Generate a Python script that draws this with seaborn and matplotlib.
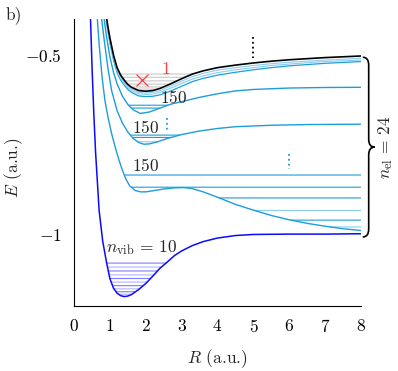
import numpy as np
import seaborn as sns
import matplotlib.pyplot as plt
from matplotlib.path import Path
from matplotlib.patches import PathPatch

# ground state curve and its vibrational levels
R_gs = [0.46, 0.5, 0.55, 0.6, 0.7, 0.8, 0.9, 1.0, 1.1, 1.2, 1.3, 1.4, 1.5, 1.6, 1.8, 2.0,
        2.2, 2.4, 2.6, 2.8, 3.0, 3.3, 3.6, 4.0, 4.5, 5.0, 6.0, 7.0, 8.0]
E_gs = [-0.40, -0.527, -0.66, -0.77, -0.935, -1.02, -1.076, -1.1245, -1.151, -1.165, -1.172,
        -1.1745, -1.173, -1.169, -1.155, -1.138, -1.117, -1.095, -1.078, -1.060, -1.047,
        -1.032, -1.021, -1.011, -1.004, -1.001, -1.0, -1.0, -0.999]
lev_gs = [-1.081, -1.092, -1.103, -1.114, -1.124, -1.134, -1.144, -1.153, -1.161, -1.168]

# ion curve (black) and its levels (grey)
R_ion = [0.9, 0.95, 1.0, 1.1, 1.2, 1.3, 1.4, 1.5, 1.6, 1.8, 2.0, 2.2, 2.4, 2.7, 3.0, 3.3,
         3.6, 4.0, 4.5, 5.0, 5.5, 6.0, 7.0, 8.0]
E_ion = [-0.392, -0.424, -0.452, -0.500, -0.535, -0.556, -0.570, -0.582, -0.590, -0.599,
         -0.601, -0.599, -0.593, -0.580, -0.566, -0.553, -0.544, -0.535, -0.528, -0.522,
         -0.517, -0.513, -0.507, -0.5025]
lev_ion = [-0.553, -0.562, -0.572, -0.581, -0.589, -0.595]

# high excited states hugging the ion curve
E_F = [-0.397, -0.429, -0.457, -0.505, -0.540, -0.561, -0.575, -0.587, -0.595, -0.604,
       -0.606, -0.604, -0.599, -0.586, -0.573, -0.560, -0.551, -0.542, -0.535, -0.529,
       -0.524, -0.520, -0.514, -0.509]
E_E = [-0.401, -0.433, -0.461, -0.509, -0.544, -0.565, -0.579, -0.591, -0.599, -0.608,
       -0.610, -0.609, -0.604, -0.592, -0.579, -0.567, -0.558, -0.549, -0.541, -0.535,
       -0.529, -0.525, -0.518, -0.514]
E_D = [-0.406, -0.438, -0.466, -0.514, -0.549, -0.570, -0.584, -0.596, -0.604, -0.614,
       -0.616, -0.615, -0.611, -0.600, -0.587, -0.574, -0.565, -0.556, -0.548, -0.541,
       -0.535, -0.530, -0.523, -0.518]

# excited state C
R_C = [0.84, 0.9, 1.0, 1.1, 1.2, 1.35, 1.5, 1.65, 1.85, 2.1, 2.4, 2.7, 3.0, 3.5, 4.0,
       4.5, 5.0, 6.0, 7.0, 8.0]
E_C = [-0.40, -0.445, -0.505, -0.548, -0.580, -0.615, -0.638, -0.653, -0.663, -0.659,
       -0.648, -0.637, -0.630, -0.618, -0.608, -0.600, -0.596, -0.592, -0.5905, -0.590]
lev_C = [-0.640, -0.648]

# excited state B
R_B = [0.77, 0.85, 0.95, 1.05, 1.2, 1.35, 1.5, 1.65, 1.8, 1.95, 2.1, 2.3, 2.6, 3.0, 3.5,
       4.0, 4.5, 5.5, 6.5, 8.0]
E_B = [-0.40, -0.465, -0.54, -0.60, -0.655, -0.69, -0.715, -0.733, -0.744, -0.749, -0.748,
       -0.743, -0.733, -0.722, -0.712, -0.705, -0.700, -0.696, -0.694, -0.693]
lev_B = [-0.7235, -0.730, -0.742]

# excited state A (with barrier)
R_A = [0.65, 0.7, 0.78, 0.86, 0.95, 1.05, 1.15, 1.25, 1.35, 1.45, 1.55, 1.7, 1.85, 2.0,
       2.2, 2.5, 2.8, 3.05, 3.3, 3.6, 4.0, 4.5, 5.0, 5.5, 6.0, 6.5, 7.0, 7.5, 8.0]
E_A = [-0.40, -0.47, -0.56, -0.626, -0.675, -0.72, -0.758, -0.792, -0.822, -0.847, -0.865,
       -0.878, -0.882, -0.882, -0.879, -0.874, -0.871, -0.870, -0.873, -0.882, -0.897,
       -0.917, -0.933, -0.948, -0.960, -0.970, -0.978, -0.985, -0.990]
lev_A = [-0.835, -0.869, -0.899, -0.934, -0.961, -0.980]

# dotted markers: R, top, bottom
dots_R = [5.0, 2.6, 6.0]
dots_top = [-0.450, -0.677, -0.775]
dots_bot = [-0.508, -0.714, -0.817]

cyan = '#1c9ddc'
light = '#8ccdef'
blue = '#0a0aff'

sns.set_theme(style='white')
plt.rcParams['font.family'] = ['cmr10', 'DejaVu Serif']
plt.rcParams['mathtext.fontset'] = 'cm'
plt.rcParams['axes.formatter.use_mathtext'] = True
plt.rcParams['axes.unicode_minus'] = False

fig = plt.figure(figsize=(3.98, 3.71), dpi=100)
ax = fig.add_axes([0.186, 0.176, 0.721, 0.772])


def level_lines(R, E, levels, colors, lw):
    rr = np.linspace(R[0], 8, 1500)
    vv = np.interp(rr, R, E)
    for i, lev in enumerate(levels):
        y = np.where(vv <= lev, lev, np.nan)
        ax.plot(rr, y, color=colors[i % len(colors)], lw=lw, zorder=1)


level_lines(R_ion, E_ion, lev_ion, ['#c8c8c8'], 0.8)
level_lines(R_gs, E_gs, lev_gs, ['#7d7dff', '#b3b3ff'], 0.8)
level_lines(R_A, E_A, lev_A, [cyan, cyan, cyan, light, cyan, light], 0.8)
level_lines(R_B, E_B, lev_B, [cyan, cyan, light], 0.8)
level_lines(R_C, E_C, lev_C, [cyan, cyan], 0.8)

sns.lineplot(x=R_A, y=E_A, ax=ax, color=cyan, lw=1.0, sort=False)
sns.lineplot(x=R_B, y=E_B, ax=ax, color=cyan, lw=1.0, sort=False)
sns.lineplot(x=R_C, y=E_C, ax=ax, color=cyan, lw=1.0, sort=False)
sns.lineplot(x=R_ion, y=E_D, ax=ax, color=cyan, lw=0.9, sort=False)
sns.lineplot(x=R_ion, y=E_E, ax=ax, color=light, lw=0.8, sort=False)
sns.lineplot(x=R_ion, y=E_F, ax=ax, color=light, lw=0.8, sort=False)
sns.lineplot(x=R_gs, y=E_gs, ax=ax, color=blue, lw=1.1, sort=False)
sns.lineplot(x=R_ion, y=E_ion, ax=ax, color='black', lw=1.2, sort=False)

# dotted vertical markers
for r, t, b, c in zip(dots_R, dots_top, dots_bot, ['black', cyan, cyan]):
    ax.plot([r, r], [t, b], color=c, lw=1.3, ls=(0, (1, 1.7)))

# red cross and label
ax.plot([1.89], [-0.570], marker='x', ms=9, mew=0.9, color='#ff4040', ls='none')
ax.text(2.56, -0.539, '$1$', color='#ff4040', fontsize=13, ha='center', va='center')

fs = 12.5
ax.text(2.79, -0.619, '$150$', fontsize=fs, ha='center', va='center')
ax.text(2.0, -0.7025, '$150$', fontsize=fs, ha='center', va='center')
ax.text(2.0, -0.807, '$150$', fontsize=fs, ha='center', va='center')
ax.text(1.89, -1.037, r'$n_{\mathrm{vib}}\,=\,10$', fontsize=fs, ha='center', va='center')

# curly brace on the right
x0, w, yt, yb = 8.05, 0.33, -0.506, -1.008
ym = (yt + yb) / 2
r = 0.022
verts = [(x0, yt), (x0 + w / 2, yt), (x0 + w / 2, yt - r),
         (x0 + w / 2, ym + r), (x0 + w / 2, ym), (x0 + w, ym),
         (x0 + w / 2, ym), (x0 + w / 2, ym - r),
         (x0 + w / 2, yb + r), (x0 + w / 2, yb), (x0, yb)]
codes = [Path.MOVETO, Path.CURVE3, Path.CURVE3, Path.LINETO, Path.CURVE3, Path.CURVE3,
         Path.CURVE3, Path.CURVE3, Path.LINETO, Path.CURVE3, Path.CURVE3]
ax.add_patch(PathPatch(Path(verts, codes), fc='none', ec='black', lw=1.2, clip_on=False))
ax.text(8.69, ym, r'$n_{\mathrm{el}}\,=\,24$', fontsize=fs, rotation=90,
        ha='center', va='center')

ax.set_xlim(0, 8)
ax.set_ylim(-1.2, -0.4)
ax.set_xticks(range(9), [f'${i}$' for i in range(9)])
ax.set_yticks([-1, -0.5], ['$-1$', '$-0.5$'])
ax.tick_params(direction='in', length=4, width=0.8, labelsize=fs, colors='black')
ax.tick_params(axis='x', pad=9)
ax.tick_params(axis='y', pad=9)
for s in ['top', 'right']:
    ax.spines[s].set_visible(False)
for s in ['left', 'bottom']:
    ax.spines[s].set_color('black')
    ax.spines[s].set_linewidth(0.8)
ax.set_xlabel('$R$ (a.u.)', fontsize=fs, labelpad=9)
ax.set_ylabel('$E$ (a.u.)', fontsize=fs)
ax.yaxis.set_label_coords(-0.17, 0.48)
fig.text(0.035, 0.96, 'b)', fontsize=fs, ha='center', va='center')

fig.savefig('out.png', dpi=100)
